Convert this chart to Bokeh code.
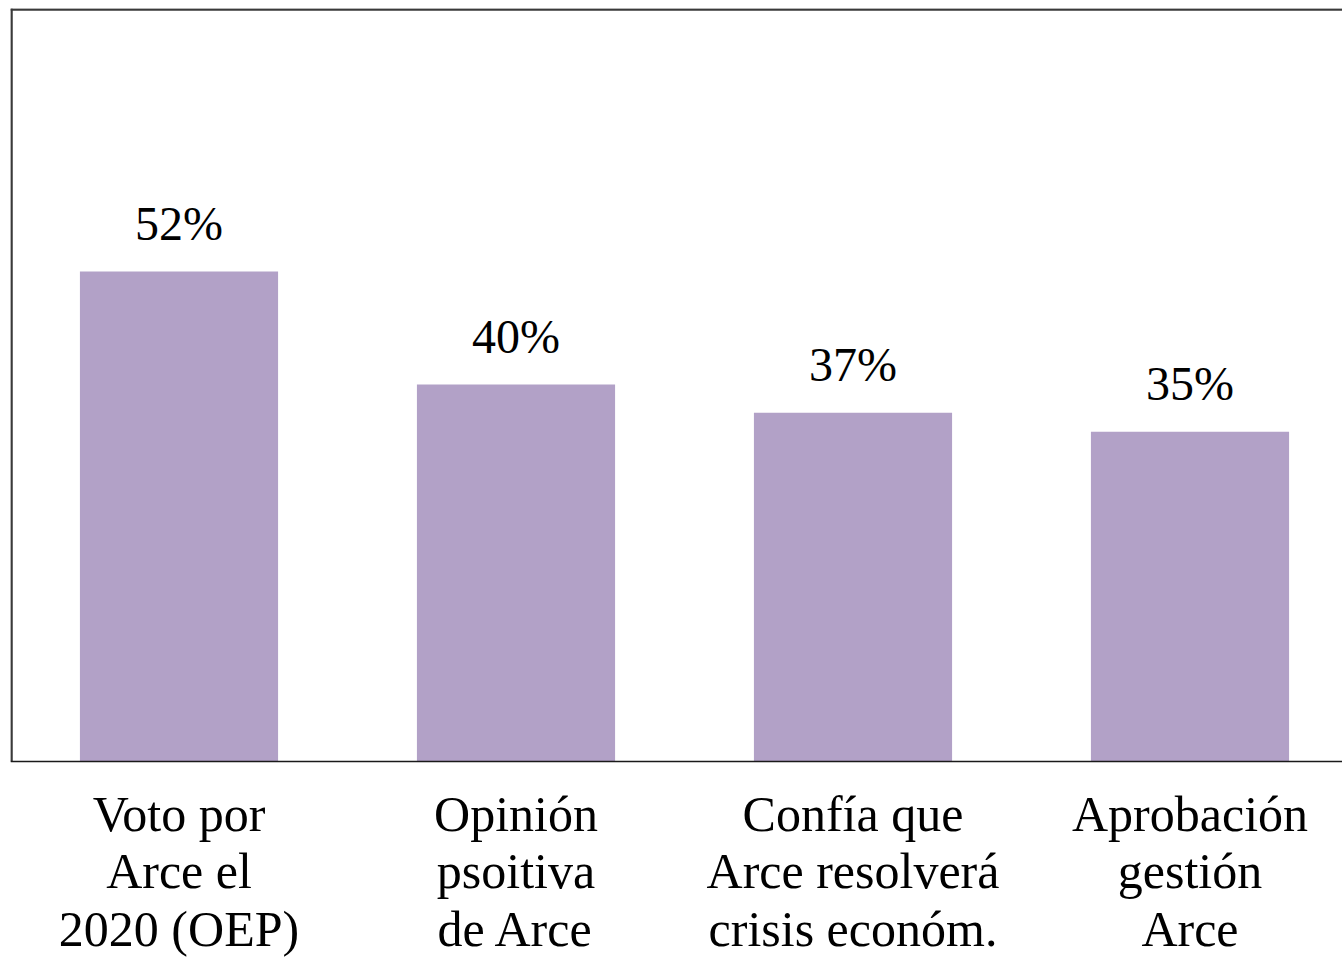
from bokeh.plotting import figure
from bokeh.models import Range1d, Span, ColumnDataSource
from bokeh.core.properties import value
from bokeh.embed import file_html
from bokeh.resources import INLINE

categories = ["Voto por\nArce el\n2020 (OEP)", "Opinión\npsoitiva\nde Arce",
              "Confía que\nArce resolverá\ncrisis económ.", "Aprobación\ngestión\nArce"]
values = [52, 40, 37, 35]
value_labels = ["52%", "40%", "37%", "35%"]

xs = list(range(len(categories)))
src = ColumnDataSource(dict(x=xs, top=values, lab=value_labels, cat=categories,
                            zero=[0] * len(xs)))

W, H = 1342, 958
LEFT, TOP = 10, 8
PX_X = 337.0
PX_Y = 9.423
frame_w = W - LEFT
ytop = (761 - TOP) / PX_Y
ybot = -(H - 761) / PX_Y

p = figure(width=W, height=H, output_backend="svg", toolbar_location=None,
           x_range=Range1d(-0.5, -0.5 + frame_w / PX_X),
           y_range=Range1d(ybot, ytop),
           min_border_left=LEFT, min_border_right=0, min_border_top=TOP, min_border_bottom=0)
p.outline_line_color = None
p.xgrid.visible = False
p.ygrid.visible = False
p.xaxis.visible = False
p.yaxis.visible = False
p.background_fill_color = "white"
p.border_fill_color = "white"

p.add_layout(Span(location=0, dimension="width", line_color="#1a1a1a", line_width=1.6))
p.add_layout(Span(location=ytop - 0.1, dimension="width", line_color="#3a3a3a", line_width=2.5))
p.segment(x0=[-0.5 + 0.003], y0=[0], x1=[-0.5 + 0.003], y1=[ytop],
          line_color="#3a3a3a", line_width=2.5)

p.vbar(x="x", top="top", bottom=0, width=0.588, source=src,
       fill_color="#B2A1C7", line_color=None)

p.text(x="x", y="top", text="lab", source=src, text_align="center",
       text_baseline="alphabetic", y_offset=-48,
       text_font=value("Liberation Serif"), text_font_size="48px", text_color="black")

p.text(x="x", y="zero", text="cat", source=src, text_align="center",
       text_baseline="top", y_offset=24, text_line_height=1.035,
       text_font=value("Liberation Serif"), text_font_size="50px", text_color="black")

open("out.html", "w").write(file_html(p, INLINE))
